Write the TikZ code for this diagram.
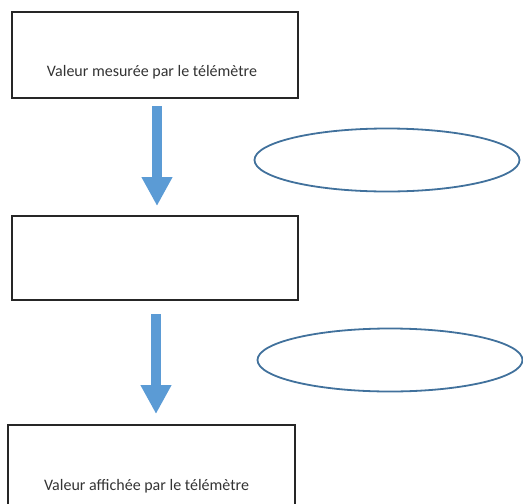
\documentclass[tikz,border=0pt]{standalone}
\usepackage{fontspec}
\setmainfont{Carlito}
\usetikzlibrary{arrows.meta,shapes.geometric}
\definecolor{flechebleu}{RGB}{91,155,213}
\definecolor{ellbleu}{RGB}{65,113,156}
\tikzset{
  boite/.style={draw=black!85, line width=2pt, rectangle, minimum width=286pt, inner sep=0pt},
  legende/.style={text=black!80, font=\fontsize{16}{18}\selectfont, inner sep=0pt},
  bulle/.style={draw=ellbleu, line width=1.8pt, ellipse, minimum width=265pt, minimum height=63pt, inner sep=0pt},
  fleche/.style={draw=flechebleu, line width=10pt, -{Triangle[length=29pt,width=29pt]}}
}
\begin{document}
\begin{tikzpicture}[x=1pt,y=-1pt]
\useasboundingbox (0,0) rectangle (523,504);
\clip (0,0) rectangle (523,504);

\node[boite, minimum height=86pt] (mesure) at (155,55) {};
\node[boite, minimum height=84pt] (milieu) at (155,258) {};
\node[boite, minimum width=287pt, minimum height=110pt] (affiche) at (151.5,480) {};

\node[legende] (txtmesure) at (152,72) {Valeur mesurée par le télémètre};
\node[legende] (txtaffiche) at (146.5,486) {Valeur affichée par le télémètre};

\node[bulle] (bulle1) at (387,160) {};
\node[bulle] (bulle2) at (390,360) {};

\draw[fleche, shorten <=7pt, shorten >=9pt] ([xshift=2pt]mesure.south) -- ([xshift=2pt]milieu.north);
\draw[fleche, shorten <=13pt, shorten >=10pt] ([xshift=1pt]milieu.south) -- ([xshift=4.5pt]affiche.north);

\end{tikzpicture}
\end{document}
